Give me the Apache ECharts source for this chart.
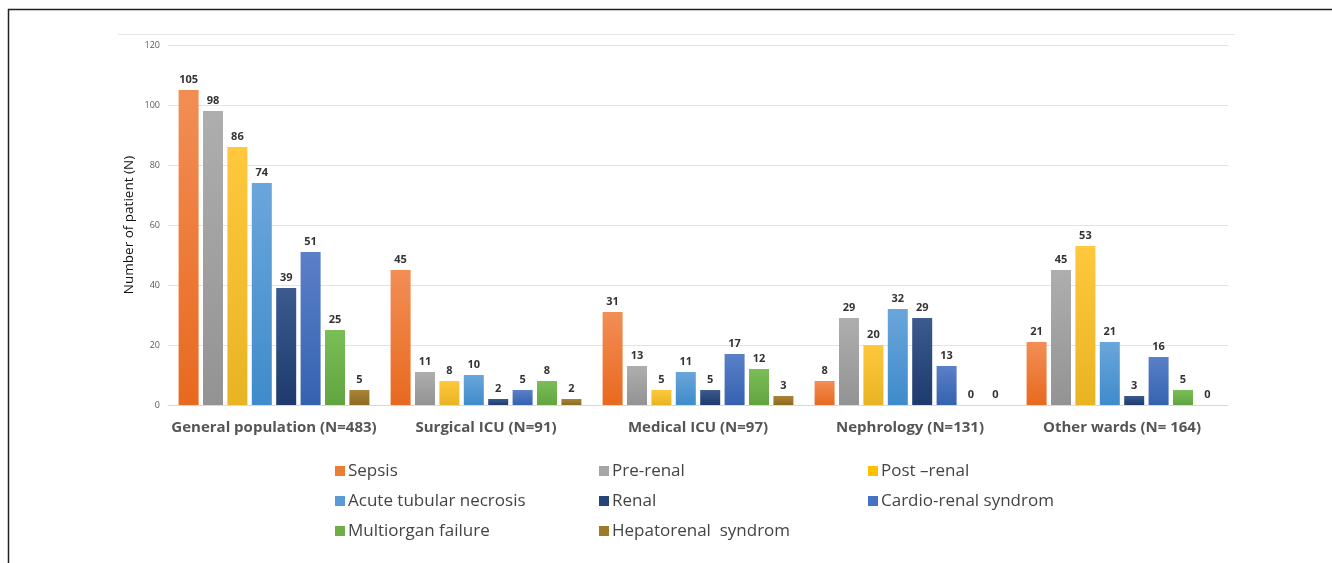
<!DOCTYPE html>
<html><head><meta charset="utf-8">
<script src="https://cdn.jsdelivr.net/npm/echarts@6/dist/echarts.min.js"></script>
<style>html,body{margin:0;padding:0;background:#fff}#c{width:1332px;height:563px}</style>
</head><body><div id="c"></div>
<script>
const categories = ['General population (N=483)', 'Surgical ICU (N=91)', 'Medical ICU (N=97)', 'Nephrology (N=131)', 'Other wards (N= 164)'];
const seriesNames = ['Sepsis', 'Pre-renal', 'Post –renal', 'Acute tubular necrosis', 'Renal', 'Cardio-renal syndrom', 'Multiorgan failure', 'Hepatorenal  syndrom'];
const sepsis = [105, 45, 31, 8, 21];
const preRenal = [98, 11, 13, 29, 45];
const postRenal = [86, 8, 5, 20, 53];
const atn = [74, 10, 11, 32, 21];
const renal = [39, 2, 5, 29, 3];
const cardioRenal = [51, 5, 17, 13, 16];
const multiorgan = [25, 8, 12, 0, 5];
const hepatorenal = [5, 2, 3, 0, 0];
const yTicks = [0, 20, 40, 60, 80, 100, 120];

const values = [sepsis, preRenal, postRenal, atn, renal, cardioRenal, multiorgan, hepatorenal];
const colorsTop = ['#F28E55', '#AEAEAE', '#FFC83D', '#6AA6DB', '#3B5A8E', '#5A80C8', '#7BBE58', '#A8843A'];
const colorsBot = ['#E8691F', '#939393', '#E8B423', '#3F8BCB', '#1E3A6E', '#3562B0', '#62A540', '#8E6B20'];
const legendSolid = ['#ED7D31', '#A5A5A5', '#FFC000', '#5B9BD5', '#264478', '#4472C4', '#70AD47', '#9E7A28'];

const chart = echarts.init(document.getElementById('c'), null, {renderer: 'canvas'});
const series = seriesNames.map((n, i) => ({
  name: n, type: 'bar', data: values[i],
  barGap: '22%', barCategoryGap: '10%',
  itemStyle: {
    color: new echarts.graphic.LinearGradient(0, 0, 0, 1, [{offset: 0, color: colorsTop[i]}, {offset: 1, color: colorsBot[i]}])
  },
  label: {show: true, position: 'top', distance: 5, fontFamily: 'Open Sans', fontWeight: 'bold', fontSize: 11, color: '#333'}
}));

function legendCol(items, left) {
  return {
    orient: 'vertical', left: left, top: 457, itemGap: 12, itemWidth: 10, itemHeight: 10,
    icon: 'rect', data: items.map(n => ({name: n, itemStyle: {color: legendSolid[seriesNames.indexOf(n)]}})),
    textStyle: {fontFamily: 'Open Sans', fontSize: 17, lineHeight: 18, color: '#444', padding: [0, 0, 0, -2]},
    selectedMode: false
  };
}

chart.setOption({
  animation: false,
  grid: {left: 168, right: 104, top: 45, bottom: 158, containLabel: false},
  legend: [
    legendCol(['Sepsis', 'Acute tubular necrosis', 'Multiorgan failure'], 330),
    legendCol(['Pre-renal', 'Renal', 'Hepatorenal  syndrom'], 594),
    legendCol(['Post –renal', 'Cardio-renal syndrom'], 863)
  ],
  xAxis: {
    type: 'category', data: categories,
    axisLine: {lineStyle: {color: '#D9D9D9'}}, axisTick: {show: false},
    axisLabel: {interval: 0, fontFamily: 'Open Sans', fontWeight: 'bold', fontSize: 15, color: '#555', margin: 15}
  },
  yAxis: {
    type: 'value', min: 0, max: 120, interval: 20,
    name: 'Number of patient (N)', nameLocation: 'middle', nameGap: 32, nameRotate: 90,
    nameMoveOverlap: false,
    nameTextStyle: {fontFamily: 'Open Sans', fontSize: 13.5, color: '#111'},
    axisLine: {show: false}, axisTick: {show: false},
    axisLabel: {fontFamily: 'Open Sans', fontSize: 9, color: '#595959', margin: 8,
      formatter: v => yTicks.includes(v) ? String(v) : ''},
    splitLine: {lineStyle: {color: '#E3E3E3'}}
  },
  graphic: [
    {type: 'line', shape: {x1: 8, y1: 9.5, x2: 1332, y2: 9.5}, style: {stroke: '#222', lineWidth: 1.5}},
    {type: 'line', shape: {x1: 8.5, y1: 9, x2: 8.5, y2: 563}, style: {stroke: '#222', lineWidth: 1.5}},
    {type: 'line', shape: {x1: 118, y1: 34.5, x2: 1235, y2: 34.5}, style: {stroke: '#E6E6E6', lineWidth: 1}}
  ],
  series: series
});
</script></body></html>
